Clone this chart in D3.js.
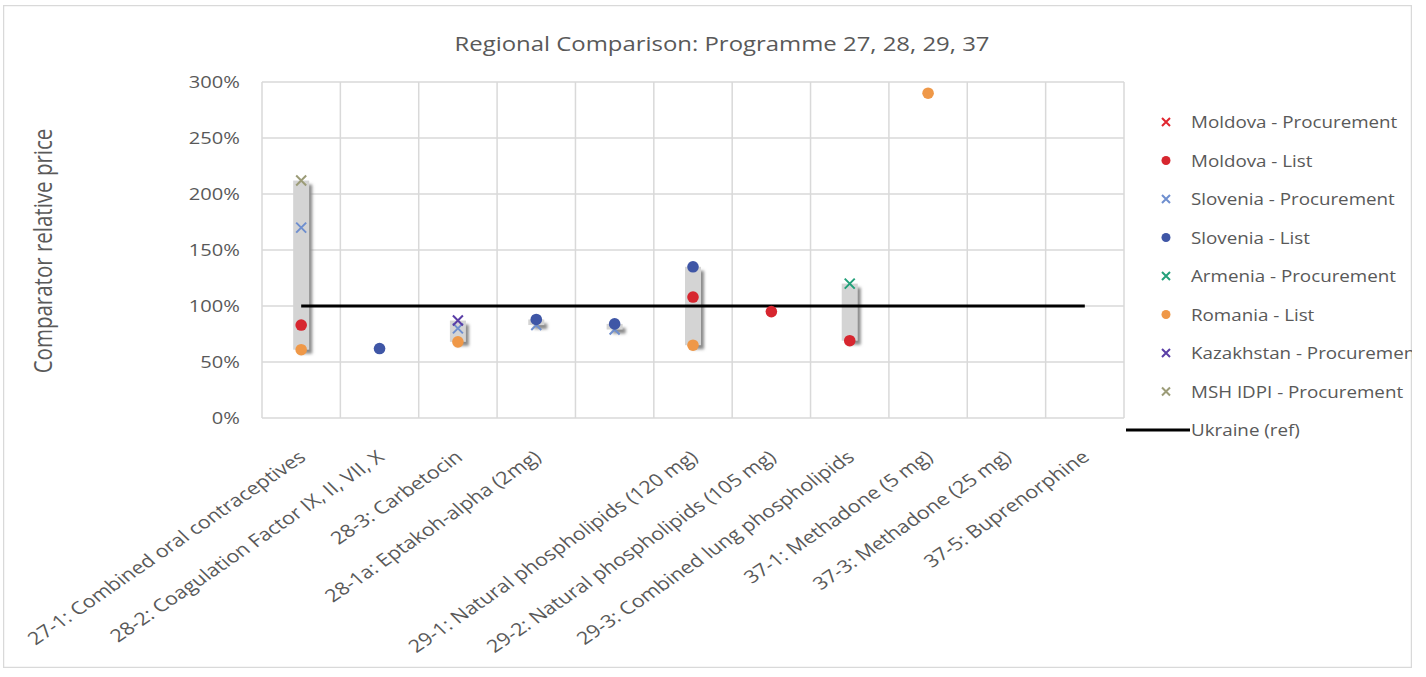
<!DOCTYPE html>
<html>
<head>
<meta charset="utf-8">
<script src="https://cdn.jsdelivr.net/npm/d3@7"></script>
<style>
  html, body { margin: 0; padding: 0; background: #fff; }
  svg { display: block; }
  text { font-family: "Open Sans", "DejaVu Sans", sans-serif; fill: #595959; }
</style>
</head>
<body>
<svg id="chart" width="1426" height="677"></svg>
<script>
// Product categories along the x axis (one slot has no label)
const categories = [
  "27-1: Combined oral contraceptives",
  "28-2: Coagulation Factor IX, II, VII, X",
  "28-3: Carbetocin",
  "28-1a: Eptakoh-alpha (2mg)",
  "",
  "29-1: Natural phospholipids (120 mg)",
  "29-2: Natural phospholipids (105 mg)",
  "29-3: Combined lung phospholipids",
  "37-1: Methadone (5 mg)",
  "37-3: Methadone (25 mg)",
  "37-5: Buprenorphine"
];

// Comparator prices relative to Ukraine (1 = 100%); null = no price
const moldovaProcurement   = [null, null, null, null, null, null, null, null, null, null, null];
const moldovaList          = [0.83, null, null, null, null, 1.08, 0.95, 0.69, null, null, null];
const sloveniaProcurement  = [1.70, null, 0.80, 0.83, 0.79, null, null, null, null, null, null];
const sloveniaList         = [null, 0.62, null, 0.88, 0.84, 1.35, null, null, null, null, null];
const armeniaProcurement   = [null, null, null, null, null, null, null, 1.20, null, null, null];
const romaniaList          = [0.61, null, 0.68, null, null, 0.65, null, null, 2.90, null, null];
const kazakhstanProcurement= [null, null, 0.87, null, null, null, null, null, null, null, null];
const mshProcurement       = [2.12, null, null, null, null, null, null, null, null, null, null];
const ukraineRef           = [1, 1, 1, 1, 1, 1, 1, 1, 1, 1, 1];

const yTicks = [0, 0.5, 1, 1.5, 2, 2.5, 3];

const series = [
  { name: "Moldova - Procurement",    values: moldovaProcurement,    shape: "x",   color: "#e0262f" },
  { name: "Moldova - List",           values: moldovaList,           shape: "dot", color: "#d7262f" },
  { name: "Slovenia - Procurement",   values: sloveniaProcurement,   shape: "x",   color: "#6f8fcf" },
  { name: "Slovenia - List",          values: sloveniaList,          shape: "dot", color: "#3f56a6" },
  { name: "Armenia - Procurement",    values: armeniaProcurement,    shape: "x",   color: "#23a07a" },
  { name: "Romania - List",           values: romaniaList,           shape: "dot", color: "#ef9848" },
  { name: "Kazakhstan - Procurement", values: kazakhstanProcurement, shape: "x",   color: "#5a3ea6" },
  { name: "MSH IDPI - Procurement",   values: mshProcurement,        shape: "x",   color: "#9c9c78" }
];

// text is drawn slightly wide, as in the exported report figure
const SX = 1.22;

const svg = d3.select("#chart");

const defs = svg.append("defs");
defs.append("clipPath").attr("id", "frameClip")
  .append("rect").attr("x", 3).attr("y", 5).attr("width", 1409).attr("height", 663);
const blur = defs.append("filter").attr("id", "soft").attr("x", "-50%").attr("y", "-50%").attr("width", "200%").attr("height", "200%");
blur.append("feGaussianBlur").attr("stdDeviation", 1.6);

const root = svg.append("g").attr("clip-path", "url(#frameClip)");

// chart frame
root.append("rect").attr("x", 3.5).attr("y", 5.5).attr("width", 1408).attr("height", 662)
  .attr("fill", "#fff").attr("stroke", "#d9d9d9").attr("stroke-width", 1.5);

const plot = { left: 262, right: 1124, top: 82, bottom: 418 };

const x = d3.scaleBand().domain(d3.range(categories.length)).range([plot.left, plot.right]);
const y = d3.scaleLinear().domain([0, 3]).range([plot.bottom, plot.top]);
const cx = i => x(i) + x.bandwidth() / 2;

function wideText(g, tx, ty, size, str, anchor) {
  return g.append("text")
    .attr("transform", `translate(${tx},${ty}) scale(${SX},1)`)
    .attr("text-anchor", anchor || "start")
    .attr("font-size", size).text(str);
}

// title
wideText(root, 722, 51, 19.6, "Regional Comparison: Programme 27, 28, 29, 37", "middle");

// gridlines
const grid = root.append("g");
grid.selectAll("line.h").data(yTicks).join("line")
  .attr("x1", plot.left).attr("x2", plot.right)
  .attr("y1", d => y(d)).attr("y2", d => y(d))
  .attr("stroke", "#d9d9d9").attr("stroke-width", 1.5);
grid.selectAll("line.v").data(d3.range(categories.length + 1)).join("line")
  .attr("x1", i => plot.left + i * x.bandwidth()).attr("x2", i => plot.left + i * x.bandwidth())
  .attr("y1", plot.top).attr("y2", plot.bottom)
  .attr("stroke", "#d9d9d9").attr("stroke-width", 1.5);

// y axis labels
const yAxis = d3.axisLeft(y).tickValues(yTicks).tickFormat(d3.format(".0%")).tickSize(0).tickPadding(0);
const yg = root.append("g").attr("transform", `translate(${plot.left - 22},0)`).call(yAxis);
yg.select(".domain").remove();
yg.selectAll("text")
  .attr("x", null).attr("dy", "0.35em")
  .attr("transform", `scale(${SX},1)`)
  .attr("font-size", 16.5).attr("fill", "#595959")
  .style("font-family", '"Open Sans", sans-serif');

// y axis title
root.append("text").attr("transform", `translate(52,251) scale(${SX},1) rotate(-90)`)
  .attr("text-anchor", "middle").attr("font-size", 20.5).text("Comparator relative price");

// x axis category labels
const xAxis = d3.axisBottom(x).tickFormat(i => categories[i]).tickSize(0).tickPadding(0);
const xg = root.append("g").attr("transform", `translate(0,${plot.bottom})`).call(xAxis);
xg.select(".domain").remove();
xg.selectAll("text")
  .attr("font-size", 17.6).attr("fill", "#595959")
  .style("font-family", '"Open Sans", sans-serif')
  .attr("text-anchor", "end")
  .attr("dy", 0).attr("y", 0)
  .attr("transform", `translate(6,41) scale(${SX},1) rotate(-40)`);

// range bars from lowest to highest comparator price
const ranges = categories.map((c, i) => {
  const vals = series.map(s => s.values[i]).filter(v => v != null);
  return { i, lo: d3.min(vals), hi: d3.max(vals), n: vals.length };
}).filter(r => r.n > 1);

const bars = root.append("g");
bars.selectAll("rect.shadow").data(ranges).join("rect")
  .attr("x", r => cx(r.i) - 2).attr("width", 13)
  .attr("y", r => y(r.hi) + 4).attr("height", r => y(r.lo) - y(r.hi))
  .attr("fill", "#8a8a8a").attr("filter", "url(#soft)");
bars.selectAll("rect.bar").data(ranges).join("rect")
  .attr("x", r => cx(r.i) - 8).attr("width", 16)
  .attr("y", r => y(r.hi)).attr("height", r => y(r.lo) - y(r.hi))
  .attr("fill", "#d4d4d4");

// Ukraine reference line
const line = d3.line().x((d, i) => cx(i)).y(d => y(d));
root.append("path").datum(ukraineRef).attr("d", line)
  .attr("fill", "none").attr("stroke", "#000").attr("stroke-width", 3);

// markers
function drawMarker(g, shape, color, px, py, big) {
  if (shape === "dot") {
    g.append("circle").attr("cx", px).attr("cy", py).attr("r", big ? 5.8 : 4.5).attr("fill", color);
  } else {
    const s = big ? 5 : 4;
    g.append("path")
      .attr("d", `M${px - s},${py - s}L${px + s},${py + s}M${px - s},${py + s}L${px + s},${py - s}`)
      .attr("stroke", color).attr("stroke-width", 2).attr("fill", "none");
  }
}

const marks = root.append("g");
series.forEach(s => {
  s.values.forEach((v, i) => {
    if (v == null) return;
    drawMarker(marks, s.shape, s.color, cx(i), y(v), true);
  });
});

// legend
const legend = root.append("g");
const legY0 = 122, legStep = 38.5;
series.forEach((s, k) => {
  const ly = legY0 + k * legStep;
  drawMarker(legend, s.shape, s.color, 1166, ly, false);
  wideText(legend, 1191, ly + 6, 15.4, s.name);
});
const ukY = legY0 + series.length * legStep;
legend.append("line").attr("x1", 1126).attr("x2", 1190).attr("y1", ukY).attr("y2", ukY)
  .attr("stroke", "#000").attr("stroke-width", 3);
wideText(legend, 1191, ukY + 6, 15.4, "Ukraine (ref)");
</script>
</body>
</html>
